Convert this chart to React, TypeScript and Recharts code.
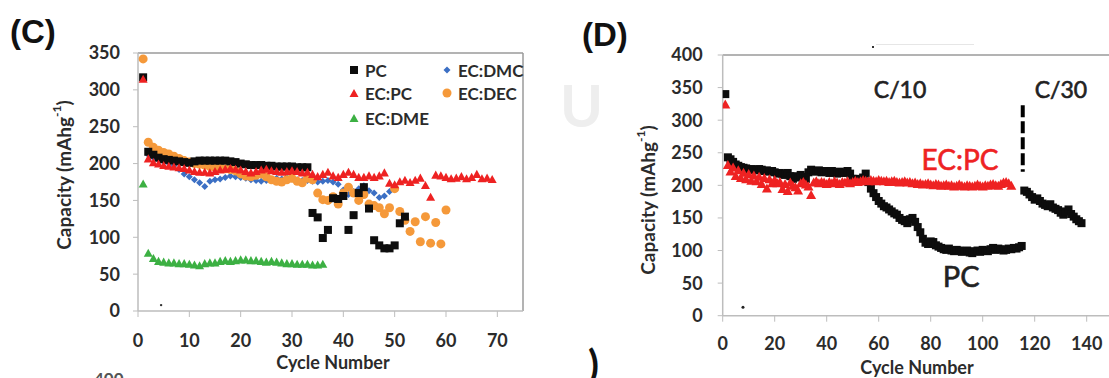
import React from "react";
import { ScatterChart, Scatter, XAxis, YAxis, ReferenceLine, ReferenceDot } from "recharts";

// ---- panel C: solvent comparison, cycles 1..75 ----
const ticksXC = [0, 10, 20, 30, 40, 50, 60, 70];
const ticksYC = [0, 50, 100, 150, 200, 250, 300, 350];

// capacity (mAh/g) per cycle, first value is cycle 1 unless noted
const pcC = [
  317, 216, 212, 208, 206, 205, 204, 203, 202, 201, 203, 204, 204, 204, 204, 204, 204, 203, 202, 200,
  199, 198, 198, 198, 197, 197, 196, 196, 196, 196, 195, 195, 195, 133, 127, 99, 110, 153, 152, 156,
  110, 130, 160, 168, 139, 96, 89, 85, 85, 89, 119, 128,
];
const ecpcC = [
  315, 207, 202, 200, 198, 197, 196, 195, 194, 192, 190, 189, 189, 188, 190, 192, 193, 194, 193, 192,
  190, 188, 190, 192, 193, 191, 190, 189, 190, 191, 190, 188, 189, 186, 183, 186, 189, 184, 182, 186,
  189, 186, 182, 182, 184, 182, 184, 188, 174, 172, 176, 178, 175, 178, 181, 171, 155, 185, 184, 182,
  180, 181, 183, 180, 182, 186, 180, 181, 179,
];
const ecdmeC = [
  173, 79, 72, 68, 67, 66, 66, 65, 65, 64, 63, 62, 65, 66, 66, 68, 69, 68, 69, 70,
  70, 69, 69, 68, 67, 68, 67, 66, 65, 65, 64, 64, 64, 63, 63, 64,
];
// EC:DMC starts at cycle 2
const ecdmcC = [
  212, 208, 205, 202, 200, 197, 192, 186, 182, 178, 174, 169, 176, 178, 179, 181, 183, 182, 181,
  180, 178, 177, 176, 177, 178, 180, 179, 181, 179, 178, 177, 177, 176, 175, 176, 177, 175, 172, 164,
  158, 162, 166, 170, 163, 160, 154, 156, 162,
];
const ecdecC = [
  342, 229, 222, 218, 215, 213, 210, 207, 204, 202, 200, 199, 198, 196, 195, 194, 193, 192, 190, 186,
  183, 182, 184, 186, 182, 178, 176, 175, 178, 180, 176, 174, 180, 178, 160, 151, 150, 155, 145, 160,
  168, 160, 150, 158, 145, 143, 140, 132, 140, 166, 135, 123, 108, 121, 94, 128, 92, 120, 91, 137,
];

// ---- panel D: PC vs EC:PC, C/10 then C/30 ----
const ticksXD = [0, 20, 40, 60, 80, 100, 120, 140, 160];
const ticksYD = [0, 50, 100, 150, 200, 250, 300, 350, 400];

const pcD10 = [
  340, 243, 240, 236, 232, 230, 228, 227, 226, 224, 225, 224, 223, 225, 224, 222, 223, 221, 222, 220,
  218, 219, 217, 216, 219, 214, 210, 214, 212, 216, 213, 210, 220, 224, 222, 221, 223, 220, 222, 221,
  219, 222, 220, 218, 221, 219, 220, 222, 218, 210, 210, 208, 209, 212, 218, 205, 195, 188, 182, 176,
  172, 168, 166, 163, 160, 157, 155, 150, 147, 145, 142, 148, 150, 144, 136, 128, 118, 112, 110, 114,
  113, 108, 106, 104, 102, 101, 103, 100, 99, 101, 100, 98, 99, 100, 97, 96, 99, 100, 98, 101,
  100, 99, 102, 104, 101, 103, 102, 100, 101, 103, 102, 104, 103, 105, 107,
];
// C/30 segment starts at cycle 116
const pcD30 = [
  192, 190, 186, 182, 178, 180, 176, 172, 170, 168, 171, 166, 164, 162, 158, 155, 160, 163, 156, 152,
  148, 145, 142,
];
const ecpcD = [
  325, 232, 222, 228, 215, 224, 212, 220, 210, 218, 208, 216, 207, 214, 203, 212, 196, 210, 204, 209,
  204, 206, 195, 203, 192, 205, 200, 198, 193, 204, 206, 202, 199, 186, 205, 207, 204, 206, 205, 203,
  206, 204, 207, 205, 203, 206, 205, 207, 204, 206, 208, 206, 207, 209, 208, 207, 209, 208, 207, 209,
  208, 207, 208, 206, 207, 208, 206, 205, 206, 207, 205, 206, 204, 205, 203, 204, 202, 203, 204, 202,
  201, 203, 202, 200, 201, 202, 200, 201, 199, 200, 202, 200, 199, 201, 200, 199, 200, 202, 200, 199,
  201, 200, 202, 203, 201, 200, 203, 205, 206, 204, 200,
];

const byCycle = (values: number[], first = 1) => values.map((y, i) => ({ x: first + i, y }));

const FONT = "Lato, 'DejaVu Sans', sans-serif";
const TEXT = "#2b2b2b";
const AXIS = "#bdbdbd";
const FRAME = "#9a9a9a";

const tickStyle = { fill: TEXT, fontSize: 18, fontFamily: FONT, fontWeight: 700 };

// marker shapes
const square = (color: string, s: number) => (p: any) =>
  <rect x={p.cx - s / 2} y={p.cy - s / 2} width={s} height={s} fill={color} />;
const triangle = (color: string, s: number) => (p: any) => {
  const h = s * 0.9;
  return (
    <polygon
      points={`${p.cx},${p.cy - h / 2} ${p.cx + s / 2},${p.cy + h / 2} ${p.cx - s / 2},${p.cy + h / 2}`}
      fill={color}
    />
  );
};
const diamond = (color: string, s: number) => (p: any) =>
  <polygon points={`${p.cx},${p.cy - s / 2} ${p.cx + s / 2},${p.cy} ${p.cx},${p.cy + s / 2} ${p.cx - s / 2},${p.cy}`} fill={color} />;
const circle = (color: string, s: number) => (p: any) => <circle cx={p.cx} cy={p.cy} r={s / 2} fill={color} />;

const BLACK = "#0d0d0d";
const RED = "#ee2222";
const GREEN = "#3cb043";
const BLUE = "#3b6fc4";
const ORANGE = "#f5993a";

// axis titles are placed at fixed spots inside each chart's svg
const AxisTitle = ({ px, py, text }: { px: number; py: number; text: string }) => (
  <text x={px} y={py} textAnchor="middle" dominantBaseline="central" fill={TEXT}
    fontFamily={FONT} fontWeight={700} fontSize={18}>{text}</text>
);

const CapacityTitle = ({ px, py }: { px: number; py: number }) => (
  <text x={px} y={py} transform={`rotate(-90 ${px} ${py})`} textAnchor="middle" dominantBaseline="central"
    fill={TEXT} fontFamily={FONT} fontWeight={700} fontSize={19}>
    Capacity (mAhg<tspan fontSize={12} dy={-7}>-1</tspan><tspan dy={7}>)</tspan>
  </text>
);

const legendItems = [
  { label: "PC", shape: square(BLACK, 8), x: 14, y: 12 },
  { label: "EC:PC", shape: triangle(RED, 9), x: 14, y: 35 },
  { label: "EC:DME", shape: triangle(GREEN, 9), x: 14, y: 60 },
  { label: "EC:DMC", shape: diamond(BLUE, 7), x: 107, y: 12 },
  { label: "EC:DEC", shape: circle(ORANGE, 9), x: 107, y: 35 },
];

const LegendC = () => (
  <svg width={200} height={74} style={{ display: "block" }}>
    {legendItems.map((it) => (
      <g key={it.label}>
        {it.shape({ cx: it.x, cy: it.y })}
        <text x={it.x + 11} y={it.y} dominantBaseline="central" fill={TEXT}
          fontFamily={FONT} fontWeight={700} fontSize={17}>{it.label}</text>
      </g>
    ))}
  </svg>
);

const PanelC = () => (
  <ScatterChart width={560} height={378} margin={{ top: 53, right: 37, bottom: 0, left: 0 }}>
    <XAxis type="number" dataKey="x" domain={[0, 75]} ticks={ticksXC} allowDataOverflow
      height={67} tick={tickStyle} tickSize={6} tickMargin={17}
      axisLine={{ stroke: AXIS, strokeWidth: 1.5 }} tickLine={{ stroke: AXIS }}
      label={<AxisTitle px={333} py={362} text="Cycle Number" />} />
    <YAxis type="number" dataKey="y" domain={[0, 350]} ticks={ticksYC} allowDataOverflow
      width={138} tick={tickStyle} tickSize={5} tickMargin={13}
      axisLine={{ stroke: AXIS, strokeWidth: 1.5 }} tickLine={{ stroke: AXIS }}
      label={<CapacityTitle px={63} py={175} />} />
    <ReferenceLine y={350} stroke={FRAME} strokeWidth={1.5} />
    <ReferenceLine x={75} stroke={FRAME} strokeWidth={1.5} />
    <ReferenceDot x={4.5} y={8} r={1.2} fill="#333" stroke="none" />
    <Scatter data={byCycle(ecdmcC, 2)} shape={diamond(BLUE, 7)} isAnimationActive={false} />
    <Scatter data={byCycle(ecdecC)} shape={circle(ORANGE, 9)} isAnimationActive={false} />
    <Scatter data={byCycle(pcC)} shape={square(BLACK, 8)} isAnimationActive={false} />
    <Scatter data={byCycle(ecpcC)} shape={triangle(RED, 9)} isAnimationActive={false} />
    <Scatter data={byCycle(ecdmeC)} shape={triangle(GREEN, 9)} isAnimationActive={false} />
  </ScatterChart>
);

// annotation text: regular weight, thickened a little with a matching stroke
const noteLabel = (value: string, fill: string, fontSize: number) => ({
  value, position: "center" as const, fill, fontSize, fontFamily: FONT, fontWeight: 400,
  stroke: fill, strokeWidth: 0.6,
});

const PanelD = () => (
  <ScatterChart width={600} height={378} margin={{ top: 55, right: 21.3, bottom: 0, left: 0 }}>
    <XAxis type="number" dataKey="x" domain={[0, 160]} ticks={ticksXD} allowDataOverflow
      height={62.3} tick={tickStyle} tickSize={6} tickMargin={16}
      axisLine={{ stroke: AXIS, strokeWidth: 1.5 }} tickLine={{ stroke: AXIS }}
      label={<AxisTitle px={357} py={367} text="Cycle Number" />} />
    <YAxis type="number" dataKey="y" domain={[0, 400]} ticks={ticksYD} allowDataOverflow
      width={162.7} tick={tickStyle} tickSize={5} tickMargin={15}
      axisLine={{ stroke: AXIS, strokeWidth: 1.5 }} tickLine={{ stroke: AXIS }}
      label={<CapacityTitle px={87} py={200} />} />
    <ReferenceLine y={400} stroke={FRAME} strokeWidth={1.5} />
    <ReferenceDot x={7.8} y={13} r={1.5} fill="#222" stroke="none" />
    <Scatter data={byCycle(pcD10)} shape={square(BLACK, 8)} isAnimationActive={false} />
    <Scatter data={byCycle(pcD30, 116)} shape={square(BLACK, 8)} isAnimationActive={false} />
    <Scatter data={byCycle(ecpcD)} shape={triangle(RED, 10)} isAnimationActive={false} />
    <ReferenceLine segment={[{ x: 115.4, y: 323 }, { x: 115.4, y: 221 }]} stroke="#000"
      strokeWidth={4} strokeDasharray="12 4" />
    <ReferenceDot x={68.2} y={346} r={0} fill="none" stroke="none" label={noteLabel("C/10", "#222", 23)} />
    <ReferenceDot x={130.1} y={346} r={0} fill="none" stroke="none" label={noteLabel("C/30", "#222", 23)} />
    <ReferenceDot x={91.3} y={239} r={0} fill="none" stroke="none" label={noteLabel("EC:PC", RED, 28)} />
    <ReferenceDot x={91.7} y={59.5} r={0} fill="none" stroke="none" label={noteLabel("PC", "#222", 29)} />
  </ScatterChart>
);

const panelTag: React.CSSProperties = {
  position: "absolute", fontFamily: "'Liberation Sans', Arial, sans-serif", fontWeight: 700,
  fontSize: 33, color: "#111", lineHeight: 1,
};

export default function App() {
  return (
    <div style={{ position: "absolute", left: 0, top: 0, width: 1109, height: 378, overflow: "hidden", background: "#fff" }}>
      <div style={{ position: "absolute", left: 560, top: 70, fontFamily: FONT, fontWeight: 700, fontSize: 58, color: "#eeeeee" }}>U</div>
      <div style={{ position: "absolute", left: 0, top: 0 }}><PanelC /></div>
      <div style={{ position: "absolute", left: 560, top: 0 }}><PanelD /></div>
      <div style={{ position: "absolute", left: 340, top: 58 }}><LegendC /></div>
      <div style={{ ...panelTag, left: 10, top: 15 }}>(C)</div>
      <div style={{ ...panelTag, left: 582, top: 18 }}>(D)</div>
      <div style={{ position: "absolute", left: 876, top: 44, width: 98, height: 1, background: "#e6e6e6" }} />
      <div style={{ position: "absolute", left: 872, top: 46, width: 2, height: 2, background: "#333" }} />
      <div style={{ position: "absolute", left: 94, top: 368, fontFamily: FONT, fontWeight: 700, fontSize: 17, color: "#555" }}>400</div>
      <div style={{ position: "absolute", left: 588, top: 344, fontFamily: FONT, fontWeight: 700, fontSize: 40, color: "#111", lineHeight: 1 }}>)</div>
    </div>
  );
}
